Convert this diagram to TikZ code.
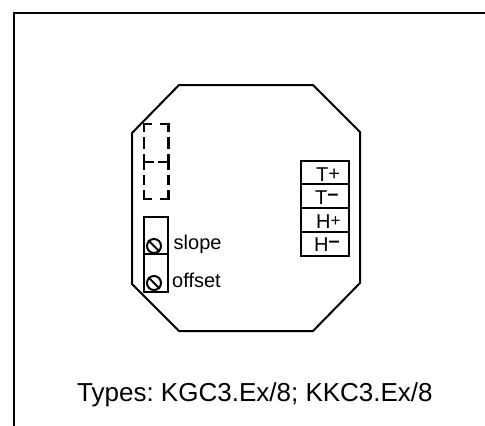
\documentclass[tikz,border=0pt]{standalone}
\usepackage{fontspec}
\setmainfont{Liberation Sans}
\newcommand{\tplus}{\raisebox{0.5pt}{\fontsize{20}{20}\selectfont +}}
\newcommand{\hplus}{\raisebox{1.5pt}{\fontsize{17}{17}\selectfont +}}
\newcommand{\fatminus}{\raisebox{3.5pt}{\fontseries{b}\selectfont –}}
\tikzset{
  frameline/.style={line width=2.6pt,black,line cap=butt},
  housing/.style={line width=2pt,black,line join=miter},
  boxline/.style={line width=2pt,black},
  dashline/.style={line width=2.2pt,black,line cap=butt},
  screwshape/.style={circle,draw=black,line width=2pt,minimum size=14pt,inner sep=0pt},
  termlabel/.style={font=\fontsize{20}{20}\selectfont,inner sep=0pt,anchor=base west},
  sidelabel/.style={font=\fontsize{20}{20}\selectfont,inner sep=0pt,anchor=base west},
}
\begin{document}
\begin{tikzpicture}[x=1pt,y=-1pt]
\useasboundingbox (0,0) rectangle (485,426);
% outer frame: top and left only
\draw[frameline] (14,426) -- (14,13) -- (485,13);
% housing
\draw[housing] (179,85) -- (313,85) -- (360,132) -- (360,283) -- (313,331) -- (179,331) -- (132,284) -- (132,133) -- cycle;
% dashed slots
\draw[dashline,line join=miter] (144,132) -- (144,124) -- (152,124) (160,124) -- (168.5,124) -- (168.5,132);
\draw[dashline] (144,137) -- (144,149) (168.5,137) -- (168.5,149);
\draw[dashline] (144,154) -- (144,170) (168.5,154) -- (168.5,170);
\draw[dashline] (144,162) -- (154,162) (158,162) -- (168.5,162);
\draw[dashline] (144,175) -- (144,185) (168.5,175) -- (168.5,185);
\draw[dashline,line join=miter] (144,190) -- (144,199) -- (152,199) (160,199) -- (168.5,199) -- (168.5,190);
% trimmers
\draw[boxline] (144,217) rectangle (168,254);
\draw[boxline] (144,254) rectangle (168,292);
\node[screwshape] (s1) at (154,246) {};
\node[screwshape] (s2) at (154,283) {};
\draw[line width=2pt] (s1.north west) -- (s1.south east);
\draw[line width=2pt] (s2.north west) -- (s2.south east);
\node[sidelabel] (slope) at (173.5,249) {slope};
\node[sidelabel] (offset) at (172,287) {offset};
% terminal block
\draw[boxline] (301,161) rectangle (349,184);
\draw[boxline] (301,184) rectangle (349,208);
\draw[boxline] (301,208) rectangle (349,232);
\draw[boxline] (301,232) rectangle (349,256);
\node[termlabel] (tp) at (316,181) {T\tplus};
\node[termlabel] (tm) at (315,204) {T\fatminus};
\node[termlabel] (hp) at (316,228) {H\hplus};
\node[termlabel] (hm) at (314,251) {H\fatminus};
% caption
\node[font=\fontsize{26}{26}\selectfont,inner sep=0pt,anchor=base west] (types) at (77,401) {\frenchspacing Types: KGC3.Ex/8; KKC3.Ex/8};
\end{tikzpicture}
\end{document}
